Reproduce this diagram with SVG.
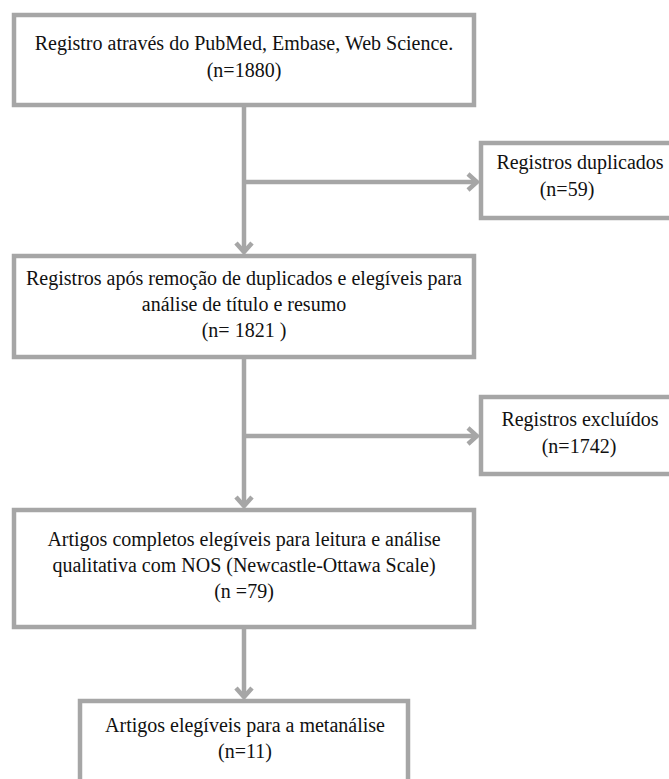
<svg xmlns="http://www.w3.org/2000/svg" width="669" height="779" viewBox="0 0 669 779">
<style>
.box{fill:#ffffff;stroke:#a6a6a6;stroke-width:4.5}
.t{font-size:20px;fill:#111111;text-anchor:middle}
.ln{fill:none;stroke:#a6a6a6;stroke-width:4.5}
</style>
<defs>
<marker id="ah" markerUnits="userSpaceOnUse" viewBox="0 0 14 20" markerWidth="14" markerHeight="20" refX="11" refY="10" orient="auto">
<path d="M2,2 L11,10 L2,18" fill="none" stroke="#a6a6a6" stroke-width="4.5"/>
</marker>
</defs>
<rect width="669" height="779" fill="#ffffff"/>
<g id="connectors">
<path class="ln" d="M244,107 V252" marker-end="url(#ah)"/>
<path class="ln" d="M244,182 H477" marker-end="url(#ah)"/>
<path class="ln" d="M244,357 V506" marker-end="url(#ah)"/>
<path class="ln" d="M244,436 H477" marker-end="url(#ah)"/>
<path class="ln" d="M244,627 V697" marker-end="url(#ah)"/>
</g>
<g font-family="Liberation Serif, DejaVu Serif, serif">
<g id="n1">
<rect class="box" x="14" y="15" width="460" height="90"/>
<text class="t" x="244" y="50">Registro através do PubMed, Embase, Web Science.</text>
<text class="t" x="244" y="77">(n=1880)</text>
</g>
<g id="n2">
<rect class="box" x="481" y="143" width="200" height="75"/>
<text class="t" x="580" y="169">Registros duplicados</text>
<text class="t" x="567" y="196">(n=59)</text>
</g>
<g id="n3">
<rect class="box" x="14" y="256" width="460" height="101"/>
<text class="t" x="244" y="285">Registros após remoção de duplicados e elegíveis para</text>
<text class="t" x="244" y="311">análise de título e resumo</text>
<text class="t" x="244" y="337">(n= 1821 )</text>
</g>
<g id="n4">
<rect class="box" x="481" y="397" width="200" height="77"/>
<text class="t" x="580" y="426">Registros excluídos</text>
<text class="t" x="579" y="453">(n=1742)</text>
</g>
<g id="n5">
<rect class="box" x="14" y="510" width="460" height="117"/>
<text class="t" x="244" y="546">Artigos completos elegíveis para leitura e análise</text>
<text class="t" x="244" y="572">qualitativa com NOS (Newcastle-Ottawa Scale)</text>
<text class="t" x="244" y="598">(n =79)</text>
</g>
<g id="n6">
<rect class="box" x="80" y="701" width="328" height="100"/>
<text class="t" x="245" y="732">Artigos elegíveis para a metanálise</text>
<text class="t" x="245" y="758">(n=11)</text>
</g>
</g>
</svg>
